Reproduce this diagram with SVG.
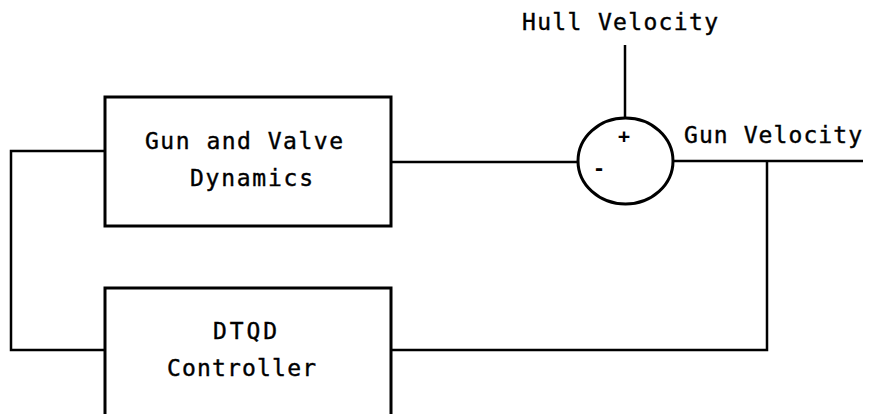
<svg xmlns="http://www.w3.org/2000/svg" width="870" height="414" viewBox="0 0 870 414">
<style>
.box{fill:#fff;stroke:#000;stroke-width:3}
.ln{fill:none;stroke:#000;stroke-width:2.5}
.t{font-family:"DejaVu Sans Mono","Liberation Mono",monospace;font-size:23px;fill:#000;stroke:#000;stroke-width:0.4}
.s{font-family:"DejaVu Sans Mono","Liberation Mono",monospace;font-size:20px;font-weight:bold;fill:#000;text-anchor:middle}
</style>
<rect width="870" height="414" fill="#fff"/>
<g id="connectors">
<polyline class="ln" points="105,151 11,151 11,350 105,350"/>
<line class="ln" x1="391" y1="162" x2="578" y2="162"/>
<line class="ln" x1="625" y1="45" x2="625" y2="118"/>
<line class="ln" x1="673" y1="161" x2="863" y2="161"/>
<polyline class="ln" points="767,161 767,350 391,350"/>
</g>
<g id="gun-valve">
<rect class="box" x="105" y="97" width="286" height="129"/>
<text class="t" x="145" y="149" textLength="198" lengthAdjust="spacing">Gun and Valve</text>
<text class="t" x="190" y="186" textLength="123" lengthAdjust="spacing">Dynamics</text>
</g>
<g id="controller">
<rect class="box" x="105" y="288" width="286" height="140"/>
<text class="t" x="213" y="339" textLength="64" lengthAdjust="spacing">DTQD</text>
<text class="t" x="167" y="376" textLength="149" lengthAdjust="spacing">Controller</text>
</g>
<g id="sum">
<ellipse cx="625.5" cy="161" rx="47.5" ry="43" fill="#fff" stroke="#000" stroke-width="3"/>
<text class="s" x="624" y="143">+</text>
<text class="s" x="599" y="175">-</text>
</g>
<g id="hull-velocity">
<text class="t" x="522" y="30" textLength="196" lengthAdjust="spacing">Hull Velocity</text>
</g>
<g id="gun-velocity">
<text class="t" x="684" y="143" textLength="178" lengthAdjust="spacing">Gun Velocity</text>
</g>
</svg>
